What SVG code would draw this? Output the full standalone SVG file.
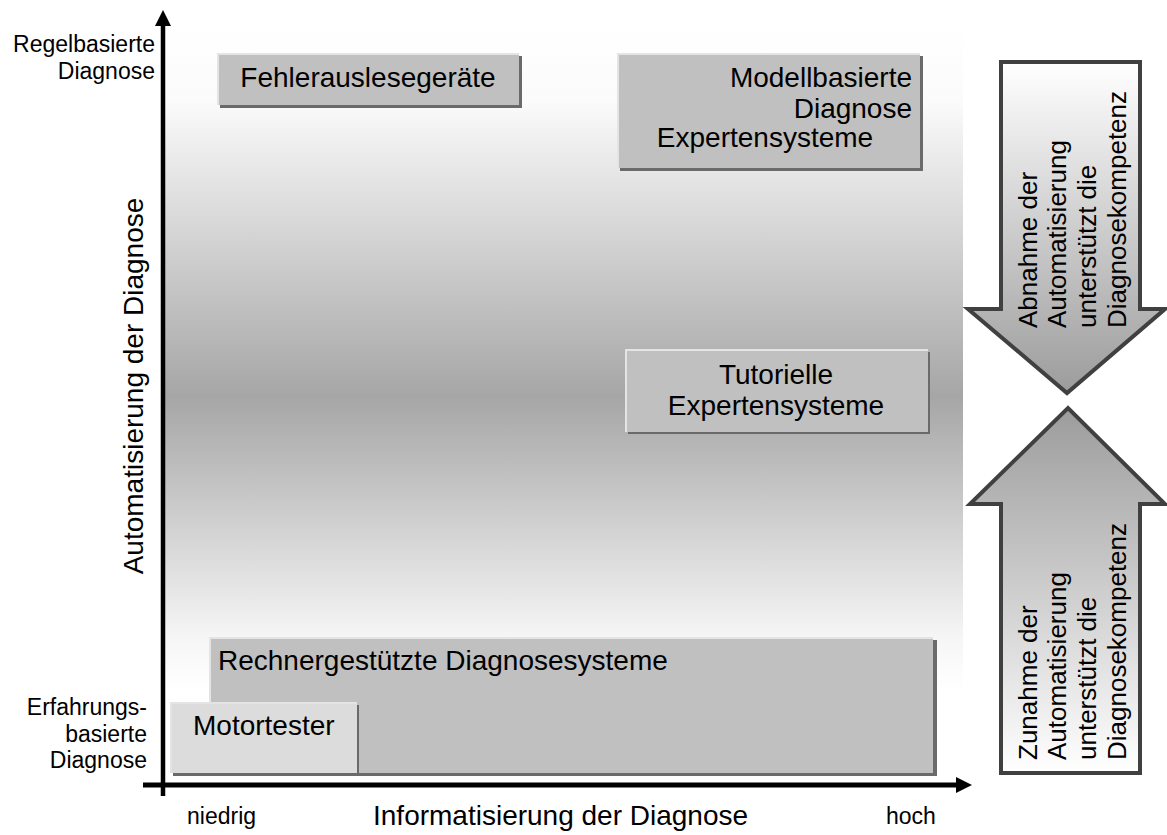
<svg xmlns="http://www.w3.org/2000/svg" width="1167" height="835" viewBox="0 0 1167 835">
<defs>
<linearGradient id="bg" x1="0" y1="0" x2="0" y2="1">
<stop offset="0" stop-color="#ffffff"/>
<stop offset="0.12" stop-color="#fbfbfb"/>
<stop offset="0.56" stop-color="#a6a6a6"/>
<stop offset="0.92" stop-color="#f6f6f6"/>
<stop offset="1" stop-color="#ffffff"/>
</linearGradient>
<linearGradient id="down" x1="0" y1="0" x2="0" y2="1">
<stop offset="0" stop-color="#ffffff"/>
<stop offset="1" stop-color="#9c9c9c"/>
</linearGradient>
<linearGradient id="up" x1="0" y1="0" x2="0" y2="1">
<stop offset="0" stop-color="#9c9c9c"/>
<stop offset="1" stop-color="#ffffff"/>
</linearGradient>
<marker id="ah" viewBox="0 0 16 16" refX="0" refY="8" markerWidth="16" markerHeight="16" markerUnits="userSpaceOnUse" orient="auto">
<path d="M0,0 L16,8 L0,16 Z" fill="#000"/>
</marker>
</defs>
<style>
text{font-family:"Liberation Sans",Arial,sans-serif;fill:#000}
.big{font-size:28px}
.sm{font-size:23px}
.arr{font-size:26px}
.shadow{fill:#6a6a6a}
.box{fill:#c0c0c0}
.box2{fill:#dcdcdc}
.hl{fill:none;stroke:#e4e4e4;stroke-width:2}
.bigarrow{stroke:#404040;stroke-width:4;stroke-linejoin:miter}
</style>
<rect x="0" y="0" width="1167" height="835" fill="#ffffff"/>
<rect id="background" x="165" y="20" width="798" height="672" fill="url(#bg)"/>

<g id="node-rechner">
<rect class="shadow" x="212" y="640" width="725" height="136"/>
<rect class="box" x="209" y="637" width="724" height="136"/>
<path class="hl" d="M210,773 V638 H933"/>
<text class="big" x="218" y="670">Rechnergestützte Diagnosesysteme</text>
</g>
<g id="node-motortester">
<rect class="shadow" x="173" y="705" width="186" height="71"/>
<rect class="box2" x="170" y="702" width="187" height="71"/>
<path class="hl" d="M171,773 V703 H357" stroke="#eeeeee"/>
<text class="big" x="193" y="735">Motortester</text>
</g>
<g id="node-fehler">
<rect class="shadow" x="220" y="56" width="302" height="52"/>
<rect class="box" x="217" y="53" width="302" height="52"/>
<path class="hl" d="M218,105 V54 H519"/>
<text class="big" x="368" y="87" text-anchor="middle">Fehlerauslesegeräte</text>
</g>
<g id="node-modell">
<rect class="shadow" x="620" y="56" width="303" height="115"/>
<rect class="box" x="617" y="53" width="303" height="115"/>
<path class="hl" d="M618,168 V54 H920"/>
<text class="big" x="912" y="87" text-anchor="end">Modellbasierte</text>
<text class="big" x="912" y="118" text-anchor="end">Diagnose</text>
<text class="big" x="765" y="147" text-anchor="middle">Expertensysteme</text>
</g>
<g id="node-tutoriell">
<rect class="shadow" x="628" y="352" width="302" height="82"/>
<rect class="box" x="625" y="349" width="303" height="83"/>
<path class="hl" d="M626,432 V350 H928"/>
<text class="big" x="776" y="384" text-anchor="middle">Tutorielle</text>
<text class="big" x="776" y="415" text-anchor="middle">Expertensysteme</text>
</g>

<g id="connectors">
<line x1="163" y1="796" x2="163" y2="26" stroke="#000" stroke-width="4.5" marker-end="url(#ah)"/>
<line x1="143" y1="785" x2="956" y2="785" stroke="#000" stroke-width="5" marker-end="url(#ah)"/>
</g>

<g id="axis-labels">
<text class="sm" x="155" y="52" text-anchor="end">Regelbasierte</text>
<text class="sm" x="155" y="79" text-anchor="end">Diagnose</text>
<text class="sm" x="147" y="715" text-anchor="end">Erfahrungs-</text>
<text class="sm" x="147" y="742" text-anchor="end">basierte</text>
<text class="sm" x="147" y="768" text-anchor="end">Diagnose</text>
<text class="sm" x="187" y="824">niedrig</text>
<text class="sm" x="886" y="824">hoch</text>
<text class="big" x="373" y="825">Informatisierung der Diagnose</text>
<text class="big" transform="translate(143,386) rotate(-90)" text-anchor="middle">Automatisierung der Diagnose</text>
</g>

<g id="node-abnahme">
<path class="bigarrow" fill="url(#down)" d="M1001,62 H1140 V309 H1165 L1067,393 L968,309 H1001 Z"/>
<g transform="translate(0,328)">
<text class="arr" transform="translate(1037,0) rotate(-90)">Abnahme der</text>
<text class="arr" transform="translate(1066,0) rotate(-90)">Automatisierung</text>
<text class="arr" transform="translate(1096,0) rotate(-90)">unterstützt die</text>
<text class="arr" transform="translate(1126,0) rotate(-90)">Diagnosekompetenz</text>
</g>
</g>
<g id="node-zunahme">
<path class="bigarrow" fill="url(#up)" d="M1001,773 H1140 V504 H1165 L1068,408 L970,504 H1001 Z"/>
<g transform="translate(0,760)">
<text class="arr" transform="translate(1037,0) rotate(-90)">Zunahme der</text>
<text class="arr" transform="translate(1066,0) rotate(-90)">Automatisierung</text>
<text class="arr" transform="translate(1096,0) rotate(-90)">unterstützt die</text>
<text class="arr" transform="translate(1126,0) rotate(-90)">Diagnosekompetenz</text>
</g>
</g>
</svg>
